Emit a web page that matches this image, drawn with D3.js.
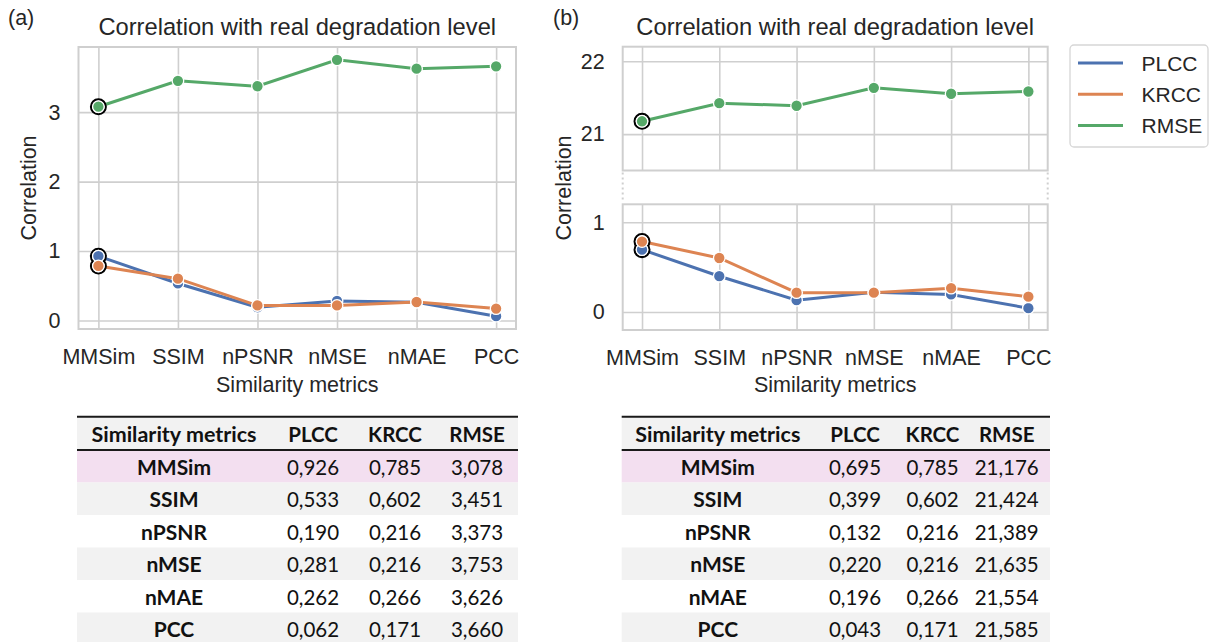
<!DOCTYPE html>
<html>
<head>
<meta charset="utf-8">
<script src="https://cdn.jsdelivr.net/npm/d3@7"></script>
<style>
  body { margin: 0; background: #fff; }
  svg text { font-family: "Liberation Sans", Arial, sans-serif; fill: #262626; }
  .tbl text { font-family: Lato, "Open Sans", sans-serif; fill: #111; }
</style>
</head>
<body>
<svg id="fig" width="1210" height="642"></svg>
<script>
// categories on the x axis
var categories = ["MMSim", "SSIM", "nPSNR", "nMSE", "nMAE", "PCC"];
var seriesNames = ["PLCC", "KRCC", "RMSE"];
var colors = ["#4C72B0", "#DD8452", "#55A868"];

// panel (a)
var plccA = [0.926, 0.533, 0.190, 0.281, 0.262, 0.062];
var krccA = [0.785, 0.602, 0.216, 0.216, 0.266, 0.171];
var rmseA = [3.078, 3.451, 3.373, 3.753, 3.626, 3.660];
var yTicksA = [0, 1, 2, 3];

// panel (b)
var plccB = [0.695, 0.399, 0.132, 0.220, 0.196, 0.043];
var krccB = [0.785, 0.602, 0.216, 0.216, 0.266, 0.171];
var rmseB = [21.176, 21.424, 21.389, 21.635, 21.554, 21.585];
var yTicksBTop = [21, 22];
var yTicksBBottom = [0, 1];

var tableHeader = ["Similarity metrics", "PLCC", "KRCC", "RMSE"];
var highlightIndex = 0; // MMSim is ringed / highlighted

var svg = d3.select("#fig");
var gridColor = "#cfcfcf";

function fmt(v) { return d3.format(".3f")(v).replace(".", ","); }

// draws one axes box with grid
function drawAxes(g, x, y, ticks, showX) {
	var x0 = x.range()[0], x1 = x.range()[1];
	var y0 = y.range()[0], y1 = y.range()[1];

	g.append("g")
		.attr("transform", "translate(" + x0 + ",0)")
		.call(d3.axisLeft(y).tickValues(ticks).tickSize(-(x1 - x0)).tickPadding(18).tickFormat(d3.format("d")))
		.call(function(a) {
			a.select(".domain").remove();
			a.selectAll("line").attr("stroke", gridColor).attr("stroke-width", 1.6);
			a.selectAll("text").style("font-size", "21.5px").attr("fill", "#262626")
				.style("font-family", "Liberation Sans, Arial, sans-serif");
		});

	g.append("g")
		.attr("transform", "translate(0," + y0 + ")")
		.call(d3.axisBottom(x).tickValues(d3.range(categories.length)).tickSize(-(y0 - y1)).tickPadding(20)
			.tickFormat(function(i) { return showX ? categories[i] : ""; }))
		.call(function(a) {
			a.select(".domain").remove();
			a.selectAll("line").attr("stroke", gridColor).attr("stroke-width", 1.6);
			a.selectAll("text").style("font-size", "21.5px").attr("fill", "#262626")
				.style("font-family", "Liberation Sans, Arial, sans-serif");
		});

	g.append("rect")
		.attr("x", x0).attr("y", y1)
		.attr("width", x1 - x0).attr("height", y0 - y1)
		.attr("fill", "none").attr("stroke", gridColor).attr("stroke-width", 2);
}

function drawSeries(g, x, y, values, color) {
	var line = d3.line().x(function(d, i) { return x(i); }).y(function(d) { return y(d); });
	g.append("path").datum(values)
		.attr("d", line).attr("fill", "none")
		.attr("stroke", color).attr("stroke-width", 3);
}

function drawMarkers(g, x, y, values, color) {
	g.selectAll(null).data(values).enter().append("circle")
		.attr("cx", function(d, i) { return x(i); })
		.attr("cy", function(d) { return y(d); })
		.attr("r", 5.8)
		.attr("fill", color).attr("stroke", "#fff").attr("stroke-width", 1.3);
}

function drawRing(g, x, y, v) {
	g.append("circle")
		.attr("cx", x(highlightIndex)).attr("cy", y(v))
		.attr("r", 7.4).attr("fill", "#fff")
		.attr("stroke", "#000").attr("stroke-width", 2.2);
}

function title(cx, text) {
	svg.append("text").attr("x", cx).attr("y", 35)
		.attr("text-anchor", "middle").style("font-size", "23.7px").text(text);
}

function yLabel(xpos, ypos) {
	svg.append("text")
		.attr("transform", "translate(" + xpos + "," + ypos + ") rotate(-90)")
		.attr("text-anchor", "middle").style("font-size", "21.5px").text("Correlation");
}

function xLabel(cx) {
	svg.append("text").attr("x", cx).attr("y", 392)
		.attr("text-anchor", "middle").style("font-size", "21.5px").text("Similarity metrics");
}

// ---------- panel (a)
var xA = d3.scaleLinear().domain([-0.25, 5.25]).range([78.5, 516]);
var yA = d3.scaleLinear().domain([-0.123, 3.938]).range([329, 47]);
var gA = svg.append("g");
drawAxes(gA, xA, yA, yTicksA, true);
var seriesA = [plccA, krccA, rmseA];
seriesA.forEach(function(s, k) { drawSeries(gA, xA, yA, s, colors[k]); });
seriesA.forEach(function(s) { drawRing(gA, xA, yA, s[highlightIndex]); });
seriesA.forEach(function(s, k) { drawMarkers(gA, xA, yA, s, colors[k]); });

svg.append("text").attr("x", 8).attr("y", 25).style("font-size", "21.5px").text("(a)");
title((78.5 + 516) / 2, "Correlation with real degradation level");
yLabel(36, 188);
xLabel((78.5 + 516) / 2);

// ---------- panel (b), broken y axis
var xB = d3.scaleLinear().domain([-0.25, 5.25]).range([622.7, 1047.7]);
var yBTop = d3.scaleLinear().domain([20.5, 22.2]).range([170.5, 46.7]);
var yBBot = d3.scaleLinear().domain([-0.2, 1.2]).range([330, 204.3]);
var gBTop = svg.append("g");
var gBBot = svg.append("g");
drawAxes(gBTop, xB, yBTop, yTicksBTop, false);
drawAxes(gBBot, xB, yBBot, yTicksBBottom, true);

drawSeries(gBBot, xB, yBBot, plccB, colors[0]);
drawSeries(gBBot, xB, yBBot, krccB, colors[1]);
drawSeries(gBTop, xB, yBTop, rmseB, colors[2]);
drawRing(gBBot, xB, yBBot, plccB[highlightIndex]);
drawRing(gBBot, xB, yBBot, krccB[highlightIndex]);
drawRing(gBTop, xB, yBTop, rmseB[highlightIndex]);
drawMarkers(gBBot, xB, yBBot, plccB, colors[0]);
drawMarkers(gBBot, xB, yBBot, krccB, colors[1]);
drawMarkers(gBTop, xB, yBTop, rmseB, colors[2]);

// dotted break marks
[622.7, 1047.7].forEach(function(xx) {
	svg.append("line").attr("x1", xx).attr("x2", xx)
		.attr("y1", yBTop.range()[0] + 2).attr("y2", yBBot.range()[1] - 2)
		.attr("stroke", gridColor).attr("stroke-width", 2).attr("stroke-dasharray", "2,3");
});

svg.append("text").attr("x", 553).attr("y", 25).style("font-size", "21.5px").text("(b)");
title((622.7 + 1047.7) / 2, "Correlation with real degradation level");
yLabel(571, 188);
xLabel((622.7 + 1047.7) / 2);

// ---------- legend
var leg = svg.append("g").attr("transform", "translate(1070,45)");
leg.append("rect").attr("width", 138).attr("height", 102).attr("rx", 4)
	.attr("fill", "#fff").attr("stroke", "#d6d6d6").attr("stroke-width", 1.3);
seriesNames.forEach(function(n, k) {
	var yy = 18 + k * 31.2;
	leg.append("line").attr("x1", 8).attr("x2", 53).attr("y1", yy).attr("y2", yy)
		.attr("stroke", colors[k]).attr("stroke-width", 3);
	leg.append("text").attr("x", 71.5).attr("y", yy).attr("dy", "0.36em")
		.style("font-size", "21px").text(n);
});

// ---------- tables
function drawTable(left, right, colCenters, plcc, krcc, rmse) {
	var g = svg.append("g").attr("class", "tbl");
	var top = 416.7, headH = 33.3, rowH = 32.5;
	var rowFill = ["#F3DFF0", "#F2F2F2", "#FFFFFF", "#F2F2F2", "#FFFFFF", "#F2F2F2"];
	var rowY = d3.scaleLinear().domain([0, 1]).range([top + headH, top + headH + rowH]);

	g.append("rect").attr("x", left).attr("y", top).attr("width", right - left).attr("height", headH)
		.attr("fill", "#F2F2F2");
	g.selectAll(null).data(categories).enter().append("rect")
		.attr("x", left).attr("y", function(d, i) { return rowY(i); })
		.attr("width", right - left).attr("height", rowH)
		.attr("fill", function(d, i) { return rowFill[i]; });

	g.append("line").attr("x1", left).attr("x2", right).attr("y1", top).attr("y2", top)
		.attr("stroke", "#1a1a1a").attr("stroke-width", 2);
	g.append("line").attr("x1", left).attr("x2", right).attr("y1", top + headH).attr("y2", top + headH)
		.attr("stroke", "#1a1a1a").attr("stroke-width", 2);

	tableHeader.forEach(function(h, j) {
		g.append("text").attr("x", colCenters[j]).attr("y", top + headH / 2 + 1).attr("dy", "0.36em")
			.attr("text-anchor", "middle").style("font-size", j === 0 ? "21.5px" : "20.5px")
			.style("font-weight", "bold").text(h);
	});

	categories.forEach(function(c, i) {
		var cy = rowY(i) + rowH / 2 + 1;
		var cells = [c, fmt(plcc[i]), fmt(krcc[i]), fmt(rmse[i])];
		cells.forEach(function(t, j) {
			g.append("text").attr("x", colCenters[j]).attr("y", cy).attr("dy", "0.36em")
				.attr("text-anchor", "middle").style("font-size", j === 0 ? "21px" : "20.5px")
				.style("font-weight", j === 0 ? "bold" : "normal").text(t);
		});
	});
}

drawTable(77, 518, [174, 313, 395, 477], plccA, krccA, rmseA);
drawTable(621.7, 1050, [717.8, 855, 932.5, 1006.7], plccB, krccB, rmseB);
</script>
</body>
</html>
